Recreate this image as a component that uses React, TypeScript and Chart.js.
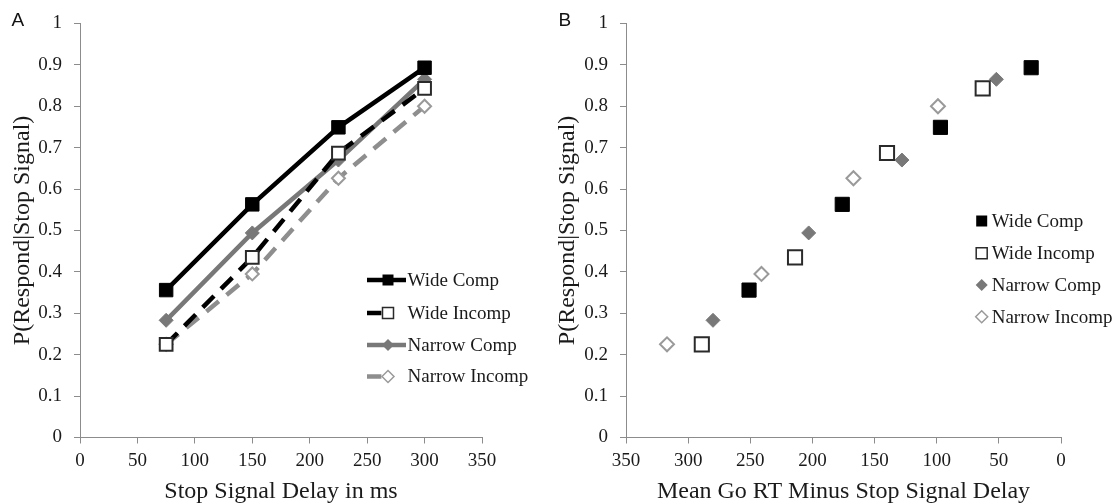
import React, { useEffect, useRef } from "react";
import { Chart, registerables } from "chart.js";

Chart.register(...registerables);

// ---- Data ----
const seriesNames = ["Wide Comp", "Wide Incomp", "Narrow Comp", "Narrow Incomp"];
const stopSignalDelays = [75, 150, 225, 300];
const wideCompP = [0.356, 0.563, 0.749, 0.893];
const wideIncompP = [0.225, 0.435, 0.687, 0.843];
const narrowCompP = [0.283, 0.494, 0.67, 0.865];
const narrowIncompP = [0.225, 0.395, 0.626, 0.8];
const wideCompRT = [251, 176, 97, 24];
const wideIncompRT = [289, 214, 140, 63];
const narrowCompRT = [280, 203, 128, 52];
const narrowIncompRT = [317, 241, 167, 99];
const xMax = 350;
const xStep = 50;
const yMax = 1;
const yStep = 0.1;
const xTitleA = "Stop Signal Delay in ms";
const xTitleB = "Mean Go RT Minus Stop Signal Delay";
const yTitle = "P(Respond|Stop Signal)";
const panelLabels = ["A", "B"];

// ---- Styles ----
const SERIF = "'Liberation Serif', 'Times New Roman', serif";
const SANS = "'Liberation Sans', Arial, sans-serif";
const TEXT = "#1a1a1a";
const AXIS = "#8c8c8c";
const styles = [
  { color: "#000000", fill: "#000000", stroke: "#000000", shape: "rect", dash: [] as number[], r: 9.5, bw: 1 },
  { color: "#000000", fill: "#ffffff", stroke: "#2a2a2a", shape: "rect", dash: [16, 10], r: 9, bw: 2 },
  { color: "#787878", fill: "#787878", stroke: "#787878", shape: "rectRot", dash: [] as number[], r: 7, bw: 1 },
  { color: "#8e8e8e", fill: "#ffffff", stroke: "#9a9a9a", shape: "rectRot", dash: [16, 10], r: 6.5, bw: 2 },
];

function drawMarker(ctx: CanvasRenderingContext2D, shape: string, x: number, y: number, size: number, fill: string, stroke: string, lw: number) {
  ctx.save();
  ctx.beginPath();
  ctx.setLineDash([]);
  if (shape === "rect") {
    ctx.rect(x - size / 2, y - size / 2, size, size);
  } else {
    ctx.moveTo(x, y - size / 2);
    ctx.lineTo(x + size / 2, y);
    ctx.lineTo(x, y + size / 2);
    ctx.lineTo(x - size / 2, y);
    ctx.closePath();
  }
  ctx.fillStyle = fill;
  ctx.fill();
  if (lw > 0) {
    ctx.lineWidth = lw;
    ctx.strokeStyle = stroke;
    ctx.stroke();
  }
  ctx.restore();
}

type LegendCfg = {
  label: string;
  labelX: number;
  labelY: number;
  markerX: number;
  rows: number[];
  textX: number;
  withLine: boolean;
  lineX0: number;
  lineX1: number;
  markerSize: number;
};

function makeOverlay(cfg: LegendCfg) {
  return {
    id: "overlay",
    afterDraw(chart: any) {
      const ctx: CanvasRenderingContext2D = chart.ctx;
      ctx.save();
      // panel letter
      ctx.font = `19px ${SANS}`;
      ctx.fillStyle = "#111";
      ctx.textBaseline = "alphabetic";
      ctx.textAlign = "left";
      ctx.fillText(cfg.label, cfg.labelX, cfg.labelY);
      // legend
      seriesNames.forEach((name, i) => {
        const s = styles[i];
        const y = cfg.rows[i];
        if (cfg.withLine) {
          ctx.save();
          ctx.beginPath();
          ctx.strokeStyle = s.color;
          ctx.lineWidth = 4.5;
          ctx.setLineDash(s.dash.length ? [s.dash[0] * 0.9, s.dash[1]] : []);
          ctx.moveTo(cfg.lineX0, y);
          ctx.lineTo(s.dash.length ? cfg.lineX0 + 20 : cfg.lineX1, y);
          ctx.stroke();
          ctx.restore();
        }
        const sz = s.shape === "rect" ? cfg.markerSize : cfg.markerSize + 1;
        drawMarker(ctx, s.shape, cfg.markerX, y, sz, s.fill, s.stroke, s.fill === "#ffffff" ? 1.5 : 0);
        ctx.font = `19px ${SERIF}`;
        ctx.fillStyle = TEXT;
        ctx.textBaseline = "middle";
        ctx.textAlign = "left";
        ctx.fillText(name, cfg.textX, y + 1);
      });
      ctx.restore();
    },
  };
}

function buildOptions(opts: {
  reverse: boolean;
  yWidth: number;
  rightPad: number;
  xTitle: string;
  yTitlePad: number;
}) {
  return {
    responsive: false,
    animation: false as const,
    devicePixelRatio: 1,
    layout: { padding: { top: 16, right: opts.rightPad, left: 0, bottom: 0 } },
    plugins: { legend: { display: false }, tooltip: { enabled: false } },
    scales: {
      x: {
        type: "linear" as const,
        min: 0,
        max: xMax,
        reverse: opts.reverse,
        afterFit: (s: any) => {
          s.height = 66.5;
        },
        ticks: { stepSize: xStep, padding: 6, color: TEXT, font: { family: SERIF, size: 19 } },
        grid: { drawOnChartArea: false, drawTicks: true, tickLength: 6, color: AXIS, tickWidth: 1 },
        border: { color: AXIS, width: 1 },
        title: {
          display: true,
          text: opts.xTitle,
          color: TEXT,
          font: { family: SERIF, size: 24, lineHeight: 0.8 },
          padding: { top: 0, bottom: 2.4 },
        },
      },
      y: {
        type: "linear" as const,
        min: 0,
        max: yMax,
        afterFit: (s: any) => {
          s.width = opts.yWidth;
        },
        ticks: {
          stepSize: yStep,
          padding: 12,
          color: TEXT,
          font: { family: SERIF, size: 19 },
          callback: (v: any) => String(Number(Number(v).toFixed(1))),
        },
        grid: { drawOnChartArea: false, drawTicks: true, tickLength: 6, color: AXIS, tickWidth: 1 },
        border: { color: AXIS, width: 1 },
        title: {
          display: true,
          text: yTitle,
          color: TEXT,
          font: { family: SERIF, size: 24, lineHeight: 0.8 },
          padding: { top: opts.yTitlePad, bottom: 0 },
        },
      },
    },
  };
}

function PanelA() {
  const ref = useRef<HTMLCanvasElement | null>(null);
  useEffect(() => {
    if (!ref.current) return;
    const ys = [wideCompP, wideIncompP, narrowCompP, narrowIncompP];
    const chart = new Chart(ref.current, {
      type: "line",
      data: {
        datasets: seriesNames.map((name, i) => ({
          label: name,
          data: stopSignalDelays.map((x, j) => ({ x, y: ys[i][j] })),
          borderColor: styles[i].color,
          borderWidth: 4.5,
          borderDash: styles[i].dash,
          pointStyle: styles[i].shape as any,
          pointRadius: styles[i].r,
          pointBackgroundColor: styles[i].fill,
          pointBorderColor: styles[i].stroke,
          pointBorderWidth: styles[i].bw,
          tension: 0,
          fill: false,
        })),
      },
      options: buildOptions({ reverse: false, yWidth: 80, rightPad: 75, xTitle: xTitleA, yTitlePad: 13.4 }) as any,
      plugins: [
        makeOverlay({
          label: panelLabels[0],
          labelX: 11.5,
          labelY: 26,
          markerX: 388,
          rows: [280, 313, 345, 376.5],
          textX: 407.5,
          withLine: true,
          lineX0: 367,
          lineX1: 406,
          markerSize: 11,
        }),
      ],
    });
    return () => chart.destroy();
  }, []);
  return <canvas ref={ref} width={557} height={504} style={{ position: "absolute", left: 0, top: 0 }} />;
}

function PanelB() {
  const ref = useRef<HTMLCanvasElement | null>(null);
  useEffect(() => {
    if (!ref.current) return;
    const xs = [wideCompRT, wideIncompRT, narrowCompRT, narrowIncompRT];
    const ys = [wideCompP, wideIncompP, narrowCompP, narrowIncompP];
    const chart = new Chart(ref.current, {
      type: "scatter",
      data: {
        datasets: seriesNames.map((name, i) => ({
          label: name,
          data: xs[i].map((x, j) => ({ x, y: ys[i][j] })),
          showLine: false,
          pointStyle: styles[i].shape as any,
          pointRadius: styles[i].shape === "rect" ? 10 : 7,
          pointBackgroundColor: styles[i].fill,
          pointBorderColor: styles[i].stroke,
          pointBorderWidth: styles[i].bw,
        })),
      },
      options: buildOptions({ reverse: true, yWidth: 69, rightPad: 56, xTitle: xTitleB, yTitlePad: 1.4 }) as any,
      plugins: [
        makeOverlay({
          label: panelLabels[1],
          labelX: 1.5,
          labelY: 26,
          markerX: 424.7,
          rows: [221, 253.3, 285, 316.7],
          textX: 434.7,
          withLine: false,
          lineX0: 0,
          lineX1: 0,
          markerSize: 11,
        }),
      ],
    });
    return () => chart.destroy();
  }, []);
  return <canvas ref={ref} width={560} height={504} style={{ position: "absolute", left: 557, top: 0 }} />;
}

export default function App() {
  return (
    <div
      style={{
        position: "fixed",
        left: 0,
        top: 0,
        width: 1117,
        height: 504,
        background: "#ffffff",
        overflow: "hidden",
      }}
    >
      <PanelA />
      <PanelB />
    </div>
  );
}
